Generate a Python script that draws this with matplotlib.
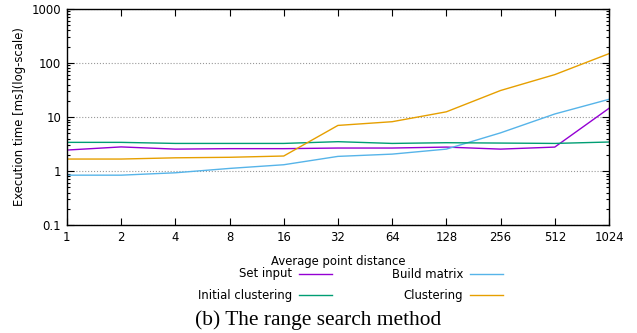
import matplotlib
matplotlib.use("Agg")
import matplotlib.pyplot as plt
from matplotlib.lines import Line2D
from matplotlib.ticker import LogLocator, NullFormatter, NullLocator

# average point distance (x) and timings in ms per phase
distance = [1, 2, 4, 8, 16, 32, 64, 128, 256, 512, 1024]
set_input = [2.45, 2.8, 2.55, 2.6, 2.6, 2.67, 2.67, 2.78, 2.55, 2.78, 14.5]
build_matrix = [0.84, 0.84, 0.93, 1.12, 1.31, 1.87, 2.06, 2.55, 5.1, 11.4, 21.3]
initial_clustering = [3.4, 3.4, 3.25, 3.25, 3.25, 3.5, 3.25, 3.35, 3.3, 3.25, 3.45]
clustering = [1.67, 1.67, 1.76, 1.8, 1.9, 7.0, 8.2, 12.5, 31, 61, 149]

series = [
    ("Set input", set_input, "#9400D3"),
    ("Build matrix", build_matrix, "#56B4E9"),
    ("Initial clustering", initial_clustering, "#009E73"),
    ("Clustering", clustering, "#E69F00"),
]

plt.rcParams['font.family'] = ['DejaVu Sans']
plt.rcParams['font.size'] = 8.4

fig = plt.figure(figsize=(6.37, 3.33), dpi=100)
ax = fig.add_axes([0.105, 0.324, 0.851, 0.649])

for name, vals, col in series:
    ax.plot(distance, vals, color=col, lw=1.0)

ax.set_xscale('log', base=2)
ax.set_yscale('log')
ax.set_xlim(1, 1024)
ax.set_ylim(0.1, 1000)
ax.set_xticks(distance)
ax.set_xticklabels([str(d) for d in distance])
ax.xaxis.set_minor_locator(NullLocator())
ax.set_yticks([0.1, 1, 10, 100, 1000])
ax.set_yticklabels(["0.1", "1", "10", "100", "1000"])
ax.yaxis.set_minor_locator(LogLocator(base=10, subs=range(2, 10)))
ax.yaxis.set_minor_formatter(NullFormatter())
ax.tick_params(which='both', direction='in', top=True, right=True, width=0.8)
ax.tick_params(which='major', length=5, pad=4)
ax.tick_params(which='minor', length=2.5)
for s in ax.spines.values():
    s.set_linewidth(1.0)

ax.grid(axis='y', which='major', color='#999999', ls=':', lw=0.8)
ax.set_axisbelow(True)

ax.set_xlabel("Average point distance", labelpad=8)
ax.set_ylabel("Execution time [ms](log-scale)", labelpad=4)

# legend: text right-aligned, sample line after it, two columns
W, H = 637, 333
rows = [(274, 0, 1), (295, 2, 3)]
for y, a, b in rows:
    for idx, tx in ((a, 292), (b, 463)):
        name, _, col = series[idx]
        yf = 1 - y / H
        fig.text(tx / W, yf, name, ha='right', va='center')
        fig.add_artist(Line2D([(tx + 7) / W, (tx + 40) / W], [yf, yf],
                              color=col, lw=1.0, transform=fig.transFigure))

fig.text(318 / W, 1 - 320 / H, "(b) The range search method", ha='center', va='center',
         fontsize=15.4, family=['Liberation Serif'])

fig.savefig("out.png", dpi=100)
